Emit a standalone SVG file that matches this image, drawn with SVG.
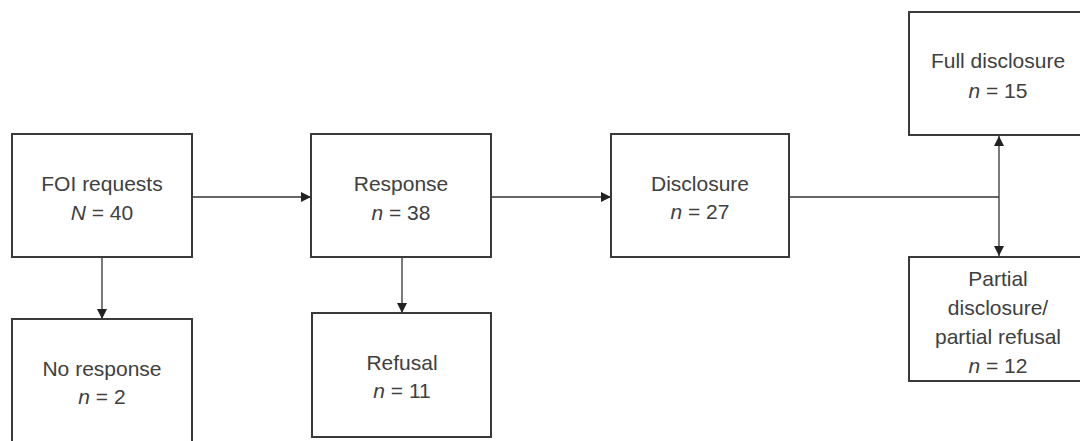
<svg xmlns="http://www.w3.org/2000/svg" width="1080" height="441" viewBox="0 0 1080 441">
<style>
.box{fill:#fff;stroke:#3a3a3a;stroke-width:2}
.t{font-family:"Liberation Sans",Arial,sans-serif;font-size:21px;fill:#404040;text-anchor:middle}
.i{font-style:italic}
.c{stroke:#333;stroke-width:1.3;fill:none}
</style>
<defs>
<marker id="ah" viewBox="0 0 10 10" refX="10" refY="5" markerWidth="10" markerHeight="10" markerUnits="userSpaceOnUse" orient="auto-start-reverse">
<path d="M0,0 L10,5 L0,10 z" fill="#222"/>
</marker>
</defs>
<rect width="1080" height="441" fill="#fff"/>
<g id="connectors">
<line class="c" x1="192" y1="197" x2="311" y2="197" marker-end="url(#ah)"/>
<line class="c" x1="491" y1="197" x2="611" y2="197" marker-end="url(#ah)"/>
<line class="c" x1="789" y1="197" x2="999" y2="197"/>
<line class="c" x1="999" y1="136" x2="999" y2="256" marker-start="url(#ah)" marker-end="url(#ah)"/>
<line class="c" x1="102" y1="257" x2="102" y2="319" marker-end="url(#ah)"/>
<line class="c" x1="402" y1="257" x2="402" y2="313" marker-end="url(#ah)"/>
</g>
<g id="foi">
<rect class="box" x="12" y="134" width="180" height="123"/>
<text class="t" x="102" y="191">FOI requests</text>
<text class="t" x="102" y="220"><tspan class="i">N</tspan> = 40</text>
</g>
<g id="response">
<rect class="box" x="311" y="134" width="180" height="123"/>
<text class="t" x="401" y="191">Response</text>
<text class="t" x="401" y="220"><tspan class="i">n</tspan> = 38</text>
</g>
<g id="disclosure">
<rect class="box" x="611" y="134" width="178" height="123"/>
<text class="t" x="700" y="191">Disclosure</text>
<text class="t" x="700" y="219"><tspan class="i">n</tspan> = 27</text>
</g>
<g id="full">
<rect class="box" x="909" y="12" width="180" height="123"/>
<text class="t" x="998" y="68">Full disclosure</text>
<text class="t" x="998" y="98"><tspan class="i">n</tspan> = 15</text>
</g>
<g id="partial">
<rect class="box" x="909" y="257" width="180" height="124"/>
<text class="t" x="998" y="286">Partial</text>
<text class="t" x="998" y="315">disclosure/</text>
<text class="t" x="998" y="344">partial refusal</text>
<text class="t" x="998" y="373"><tspan class="i">n</tspan> = 12</text>
</g>
<g id="noresponse">
<rect class="box" x="12" y="319" width="180" height="140"/>
<text class="t" x="102" y="376">No response</text>
<text class="t" x="102" y="404"><tspan class="i">n</tspan> = 2</text>
</g>
<g id="refusal">
<rect class="box" x="312" y="313" width="179" height="124"/>
<text class="t" x="402" y="370">Refusal</text>
<text class="t" x="402" y="398"><tspan class="i">n</tspan> = 11</text>
</g>
</svg>
